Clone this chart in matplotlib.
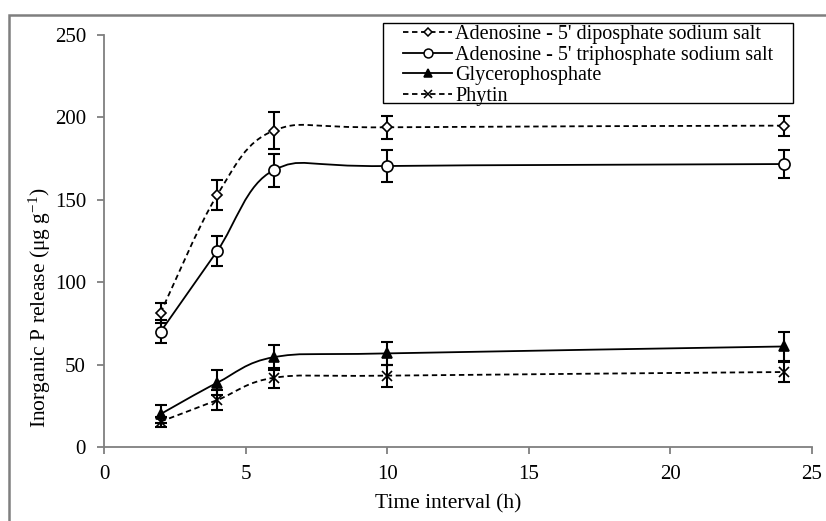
import numpy as np
import matplotlib
matplotlib.use("Agg")
import matplotlib.pyplot as plt
from matplotlib.path import Path
from matplotlib.patches import PathPatch, Rectangle
from matplotlib.lines import Line2D

plt.rcParams['font.family'] = ['Liberation Serif', 'DejaVu Serif']
plt.rcParams['mathtext.fontset'] = 'custom'
plt.rcParams['mathtext.rm'] = 'Liberation Serif'
plt.rcParams['mathtext.it'] = 'Liberation Serif:italic'

time_h = [2, 4, 6, 10, 24]
adp = [81.5, 153, 192, 194, 195]
adp_err = [6, 9, 11, 7, 6]
atp = [70, 119, 168, 170.5, 171.7]
atp_err = [7, 9, 10, 9.5, 8.5]
glycero = [20, 39, 54.5, 56.8, 61]
glycero_err = [5.5, 7.5, 7.5, 7, 9]
phytin = [15.4, 28.5, 42, 43.3, 45.5]
phytin_err = [3, 6, 6, 6.7, 6]

labels = ["Adenosine - 5' diposphate sodium salt",
          "Adenosine - 5' triphosphate sodium salt",
          "Glycerophosphate",
          "Phytin"]

fig = plt.figure(figsize=(8.26, 5.21), dpi=100)
ax = fig.add_axes([104/826, 1-447/521, (812-104)/826, (447-35)/521])

# outer frame
fig.patches.append(Rectangle((9/826, -0.2), 1.5, 1-15/521+0.2, transform=fig.transFigure,
                             fill=False, edgecolor='#7f7f7f', linewidth=1.8, zorder=0))
# legend frame
fig.patches.append(Rectangle((383/826, 1-103/521), (793-383)/826, 80/521,
                             transform=fig.transFigure, fill=True, facecolor='white',
                             edgecolor='black', linewidth=1.0, zorder=5))


def smooth_path(x, y):
    x = np.asarray(x, float); y = np.asarray(y, float)
    n = len(x)
    verts = [(x[0], y[0])]
    codes = [Path.MOVETO]
    for i in range(n - 1):
        p0 = np.array([x[max(i-1, 0)], y[max(i-1, 0)]])
        p1 = np.array([x[i], y[i]])
        p2 = np.array([x[i+1], y[i+1]])
        p3 = np.array([x[min(i+2, n-1)], y[min(i+2, n-1)]])
        c1 = p1 + (p2 - p0) / 6.0
        c2 = p2 - (p3 - p1) / 6.0
        verts += [tuple(c1), tuple(c2), tuple(p2)]
        codes += [Path.CURVE4, Path.CURVE4, Path.CURVE4]
    return Path(verts, codes)


series = [
    (adp, adp_err, (0, (3, 2)), 'D', 'white', 5.5),
    (atp, atp_err, '-', 'o', 'white', 8),
    (glycero, glycero_err, '-', '^', 'black', 7),
    (phytin, phytin_err, (0, (3, 2)), 'x', 'black', 7),
]

handles = []
for (vals, errs, ls, mk, mfc, ms), lab in zip(series, labels):
    patch = PathPatch(smooth_path(time_h, vals), fill=False, edgecolor='black',
                      linewidth=1.3, linestyle=ls, zorder=2)
    ax.add_patch(patch)
    ax.errorbar(time_h, vals, yerr=errs, fmt='none', ecolor='black', elinewidth=1.5,
                capsize=4, capthick=1.5, zorder=3)
    ax.plot(time_h, vals, linestyle='none', marker=mk, markersize=ms,
            markerfacecolor=mfc, markeredgecolor='black', markeredgewidth=1.2, zorder=4)
    handles.append(Line2D([], [], color='black', linestyle=ls, linewidth=1.3, marker=mk,
                          markersize=ms*0.8, markerfacecolor=mfc, markeredgecolor='black',
                          markeredgewidth=1.1))

ax.set_xlim(0, 25)
ax.set_ylim(0, 250)
ax.set_xticks([0, 5, 10, 15, 20, 25])
ax.set_yticks([0, 50, 100, 150, 200, 250])
for s in ['top', 'right']:
    ax.spines[s].set_visible(False)
for s in ['left', 'bottom']:
    ax.spines[s].set_color('#7f7f7f')
    ax.spines[s].set_linewidth(1.3)
ax.tick_params(axis='both', direction='out', length=5, width=1.3, color='#7f7f7f',
               labelsize=15, labelcolor='black')
ax.tick_params(axis='x', pad=8)
ax.tick_params(axis='y', pad=8)
ax.set_xlabel('Time interval (h)', fontsize=15.5)
ax.xaxis.set_label_coords((448-104)/708, -0.115)
ax.set_ylabel('Inorganic P release (μg g$^{-1}$)', fontsize=15.5)
ax.yaxis.set_label_coords(-0.072, (447-308)/412)

leg = fig.legend(handles, labels, loc='upper left', bbox_to_anchor=(403/826, 1-25/521),
                 bbox_transform=fig.transFigure, fontsize=14.5, frameon=False,
                 handlelength=2.45, handletextpad=0.15, labelspacing=0.07, borderpad=0.0,
                 borderaxespad=0)
leg.set_zorder(6)

fig.savefig('out.png', dpi=100)
